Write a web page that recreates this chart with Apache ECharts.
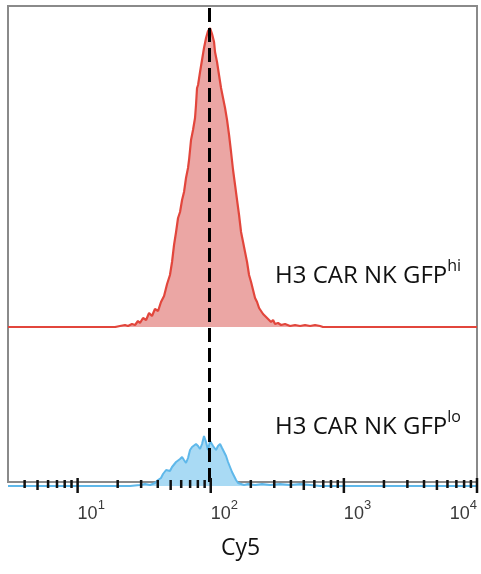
<!DOCTYPE html>
<html>
<head>
<meta charset="utf-8">
<script src="https://cdn.jsdelivr.net/npm/echarts@6/dist/echarts.min.js"></script>
<style>html,body{margin:0;padding:0;background:#fff;}#c{width:481px;height:574px;}</style>
</head>
<body>
<div id="c"></div>
<script>
// Cy5 fluorescence values (bin positions) and event counts
const redValues = [3, 19.1, 20.8, 22.7, 23.9, 25.6, 27.0, 28.4, 29.4, 31.0, 32.7, 34.4, 36.2, 38.1, 40.2, 42.3, 44.6, 47.0, 49.4, 51.2, 53.0, 54.9, 56.8, 58.8, 60.9, 63.0, 65.2, 67.5, 68.7, 69.9, 71.1, 73.6, 76.2, 77.5, 78.9, 80.3, 83.1, 86.0, 89.0, 92.2, 95.4, 98.8, 102.3, 105.9, 107.7, 111.5, 115.4, 119.5, 123.7, 128.1, 132.6, 137.3, 142.1, 147.1, 152.3, 157.6, 163.2, 168.9, 174.9, 181.0, 187.4, 194.0, 200.9, 207.9, 215.2, 222.8, 230.7, 238.8, 247.2, 255.9, 264.9, 274.2, 283.8, 293.9, 304.2, 320.3, 337.5, 361.5, 394.2, 429.9, 468.9, 510.9, 557.2, 607.5, 662.3, 697.8, 10000];
const redCounts = [0, 0, 1, 2, 1, 3, 2, 6, 4, 9, 7, 14, 11, 18, 16, 25, 31, 43, 52, 65, 82, 95, 109, 115, 127, 135, 149, 159, 167, 177, 187, 197, 209, 222, 239, 242, 255, 267, 279, 289, 296, 299, 293, 285, 275, 265, 252, 239, 229, 219, 207, 192, 175, 157, 142, 127, 112, 95, 85, 75, 65, 52, 45, 37, 29, 25, 19, 21, 13, 15, 9, 11, 5, 7, 3, 4, 2, 3, 1, 2, 1, 2, 1, 2, 1, 0, 0];

const blueValues = [3, 24.8, 29.4, 32.1, 35.0, 38.1, 40.2, 42.3, 43.8, 46.2, 47.8, 49.4, 51.2, 53.0, 54.9, 56.8, 58.8, 60.9, 63.0, 65.2, 67.5, 69.9, 72.4, 74.9, 77.5, 80.3, 83.1, 86.0, 89.0, 90.6, 92.2, 95.4, 98.8, 104.1, 109.6, 113.4, 117.5, 121.6, 125.9, 130.3, 134.9, 139.6, 144.5, 149.6, 154.9, 160.4, 166.0, 177.9, 190.6, 215.2, 242.9, 278.9, 331.6, 394.2, 468.9, 557.2, 662.3, 10000];
const blueCounts = [0, 0, 1, 2, 1, 3, 6, 8, 12, 16, 17, 15, 19, 21, 24, 23, 27, 29, 26, 23, 28, 36, 39, 41, 42, 40, 37, 42, 50, 51, 44, 36, 45, 40, 36, 40, 42, 38, 34, 30, 24, 19, 14, 10, 6, 3, 2, 1, 2, 1, 2, 1, 2, 1, 2, 1, 0, 0];

// axis ticks: value and kind (0 minor, 1 half-decade, 2 decade)
const tickValues = [4,5,6,7,8,9,10,20,30,40,50,60,70,80,90,100,200,300,400,500,600,700,800,900,1000,2000,3000,4000,5000,6000,7000,8000,9000,10000];
const tickKinds  = [0,1,0,0,0,0,2, 0, 0, 0, 1, 0, 0, 0, 0, 2,  0,  0,  0,  1,  0,  0,  0,  0,  2,   0,   0,   0,   1,   0,   0,   0,   0,   2];
const decadeLabels = {10:'1', 100:'2', 1000:'3', 10000:'4'};
const markerValue = 97;
const xTitle = 'Cy5';
const hiLabel = ['H3 CAR NK GFP', 'hi'];
const loLabel = ['H3 CAR NK GFP', 'lo'];

const chart = echarts.init(document.getElementById('c'), null, {renderer: 'canvas'});
const xBase = {type: 'log', logBase: 10, min: 3, max: 10000};
const pairs = (xs, ys) => xs.map((v, i) => [v, ys[i]]);
const labelRich = {
  t: {fontFamily: 'Open Sans', fontSize: 24, fill: '#111', lineHeight: 30, verticalAlign: 'bottom'},
  u: {fontFamily: 'Open Sans', fontSize: 16, fill: '#111', lineHeight: 18, verticalAlign: 'top'}
};

const option = {
  animation: false,
  grid: [
    {left: 8, right: 4, top: 6, bottom: 92, show: true, borderColor: '#8a8a8a', borderWidth: 2, backgroundColor: 'transparent'},
    {left: 8, right: 4, top: 6, bottom: 247},
    {left: 8, right: 4, top: 166, bottom: 88}
  ],
  xAxis: [
    Object.assign({}, xBase, {gridIndex: 0, axisLine: {show: false}, axisTick: {show: false}, splitLine: {show: false},
      axisLabel: {
        show: true, margin: 17, align: 'left', alignMaxLabel: 'right', showMinLabel: false,
        formatter: v => {
          const key = Math.round(v);
          return decadeLabels[key] ? '{b|10}{s|' + decadeLabels[key] + '}' : '';
        },
        rich: {
          b: {fontFamily: 'Liberation Sans', fontSize: 18, color: '#3a3a3a', lineHeight: 24, verticalAlign: 'bottom'},
          s: {fontFamily: 'Liberation Sans', fontSize: 13, color: '#3a3a3a', lineHeight: 12, verticalAlign: 'top'}
        }
      }
    }),
    Object.assign({}, xBase, {gridIndex: 1, show: false}),
    Object.assign({}, xBase, {gridIndex: 2, show: false})
  ],
  yAxis: [
    {type: 'value', gridIndex: 0, min: 0, max: 1, show: false},
    {type: 'value', gridIndex: 1, min: 0, max: 321, show: false},
    {type: 'value', gridIndex: 2, min: 0, max: 320, show: false}
  ],
  series: [
    {
      type: 'line', xAxisIndex: 1, yAxisIndex: 1, data: pairs(redValues, redCounts),
      symbol: 'none', smooth: false,
      lineStyle: {color: '#e2463c', width: 2.2},
      areaStyle: {color: '#eba6a4', opacity: 1},
      z: 2
    },
    {
      type: 'line', xAxisIndex: 2, yAxisIndex: 2, data: pairs(blueValues, blueCounts),
      symbol: 'none', smooth: false,
      lineStyle: {color: '#5fb8ea', width: 2},
      areaStyle: {color: '#a9daf4', opacity: 1},
      z: 2
    },
    {
      type: 'custom', xAxisIndex: 0, yAxisIndex: 0, clip: false, z: 5,
      data: tickValues.map((v, i) => [v, tickKinds[i]]),
      renderItem: (params, api) => {
        const p = api.coord([api.value(0), 0]);
        const k = api.value(1);
        const down = k === 2 ? 11 : (k === 1 ? 8 : 6);
        const up = k === 2 ? 4 : 2;
        return {type: 'line', shape: {x1: p[0], y1: p[1] - up, x2: p[0], y2: p[1] + down},
                style: {stroke: '#111', lineWidth: 2.5}};
      },
      markLine: {
        silent: true, symbol: 'none', label: {show: false},
        lineStyle: {color: '#000', width: 3, type: [14, 6]},
        data: [{xAxis: markerValue}]
      }
    }
  ],
  graphic: [
    {type: 'text', left: 'center', top: 537, style: {text: xTitle, font: '23px "Open Sans"', fill: '#111'}},
    {type: 'text', left: 275, top: 258, style: {text: '{t|' + hiLabel[0] + '}{u|' + hiLabel[1] + '}', rich: labelRich}},
    {type: 'text', left: 275, top: 409, style: {text: '{t|' + loLabel[0] + '}{u|' + loLabel[1] + '}', rich: labelRich}}
  ]
};
chart.setOption(option);
</script>
</body>
</html>
